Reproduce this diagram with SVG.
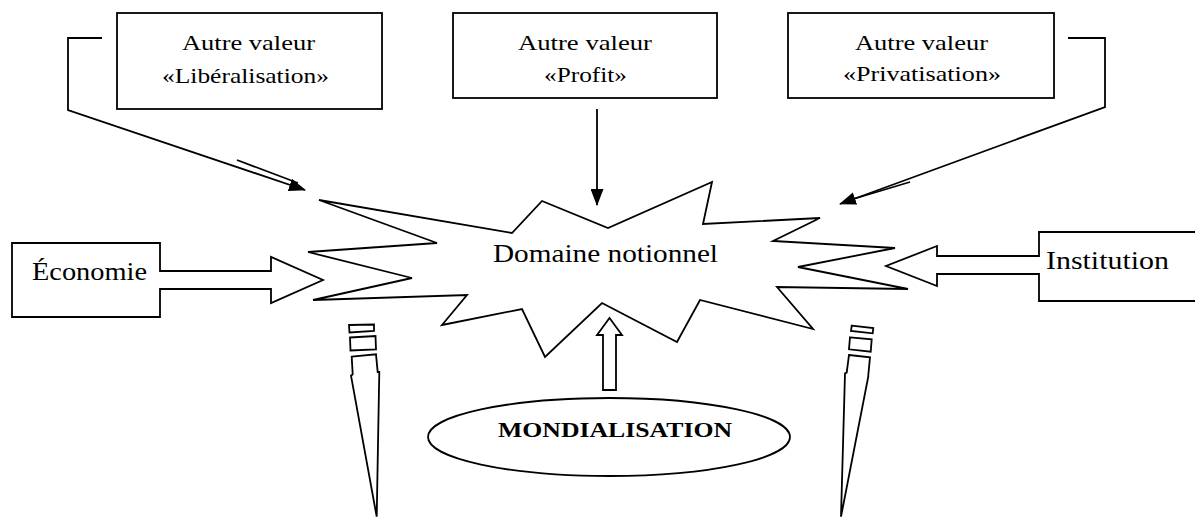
<svg xmlns="http://www.w3.org/2000/svg" width="1195" height="518" viewBox="0 0 1195 518">
<style>
.shape{fill:#fff;stroke:#000;stroke-width:1.8;stroke-linejoin:miter}
.line{fill:none;stroke:#000;stroke-width:1.8}
.t{font-family:"Liberation Serif","Times New Roman",serif;fill:#000}
.s22{font-size:22px}
.s25{font-size:25px}
.b{font-size:21px;font-weight:bold}
</style>
<defs>
<marker id="ah" viewBox="0 0 17 13" refX="16" refY="6.5" markerWidth="17" markerHeight="13" markerUnits="userSpaceOnUse" orient="auto">
<path d="M0,0 L17,6.5 L0,13 Z" fill="#000"/>
</marker>
</defs>
<rect width="1195" height="518" fill="#fff"/>

<g id="connectors">
<polyline class="line" points="102,38 68,38 68,110 305,190" marker-end="url(#ah)"/>
<line class="line" x1="237" y1="160" x2="298" y2="183"/>
<line class="line" x1="597" y1="109" x2="597" y2="205" marker-end="url(#ah)"/>
<polyline class="line" points="1068,38 1105,38 1105,107 840,204" marker-end="url(#ah)"/>
<line class="line" x1="910" y1="182" x2="850" y2="200"/>
</g>

<g id="node-liberalisation">
<rect class="shape" x="117" y="13" width="265" height="96"/>
<text class="t s22" x="182" y="50" textLength="133" lengthAdjust="spacingAndGlyphs">Autre valeur</text>
<text class="t s22" x="162" y="83" textLength="167" lengthAdjust="spacingAndGlyphs">«Libéralisation»</text>
</g>

<g id="node-profit">
<rect class="shape" x="453" y="13" width="264" height="85"/>
<text class="t s22" x="518" y="50" textLength="134" lengthAdjust="spacingAndGlyphs">Autre valeur</text>
<text class="t s22" x="544" y="82" textLength="83" lengthAdjust="spacingAndGlyphs">«Profit»</text>
</g>

<g id="node-privatisation">
<rect class="shape" x="788" y="13" width="266" height="85"/>
<text class="t s22" x="855" y="50" textLength="133" lengthAdjust="spacingAndGlyphs">Autre valeur</text>
<text class="t s22" x="843" y="81" textLength="158" lengthAdjust="spacingAndGlyphs">«Privatisation»</text>
</g>

<g id="node-domaine">
<polygon class="shape" points="319,200 512,233 542,201 608,228 712,182 703,224 820,218 773,241 895,248 798,267 908,289 777,287 813,329 700,300 677,342 602,303 545,357 522,309 442,325 467,295 313,300 412,278 308,252 437,243"/>
<text class="t s25" x="493" y="262" textLength="225" lengthAdjust="spacingAndGlyphs">Domaine notionnel</text>
</g>

<g id="node-economie">
<path class="shape" d="M160,271 L271,271 L271,257 L323,280 L271,303 L271,289 L160,289 L160,317 L12,317 L12,243 L160,243 Z"/>
<text class="t s25" x="32" y="280" textLength="115" lengthAdjust="spacingAndGlyphs">Économie</text>
</g>

<g id="node-institution">
<path class="shape" d="M1039,256 L937,256 L937,246 L886,266 L937,286 L937,274 L1039,274 L1039,301 L1200,301 L1200,232 L1039,232 Z"/>
<text class="t s25" x="1046" y="269" textLength="123" lengthAdjust="spacingAndGlyphs">Institution</text>
</g>

<g id="node-mondialisation">
<path class="shape" d="M609.5,318 L622,335 L616,335 L616,390 L603,390 L603,335 L597,335 Z"/>
<ellipse class="shape" cx="609" cy="437" rx="181" ry="39"/>
<text class="t b" x="498" y="437" textLength="234" lengthAdjust="spacingAndGlyphs">MONDIALISATION</text>
</g>

<g id="pin-left">
<polygon class="shape" points="349,325 374,324.5 374,331 349.5,332.5"/>
<polygon class="shape" points="350,337.5 375.5,336 376,349.5 350.5,350.5"/>
<polygon class="shape" points="351.7,356.7 376,354.3 377.7,372 379.3,372 376.7,516.7 351,375.7 352.7,374.3"/>
</g>

<g id="pin-right">
<polygon class="shape" points="851.7,325.7 873.3,328 872.7,333.3 851,331"/>
<polygon class="shape" points="850,337.3 871.7,339.3 870.7,351.7 849,349.3"/>
<polygon class="shape" points="849,355 870,357.3 868.3,375 868.3,376.5 841,516.7 845,373.3 846.7,372.7"/>
</g>
</svg>
